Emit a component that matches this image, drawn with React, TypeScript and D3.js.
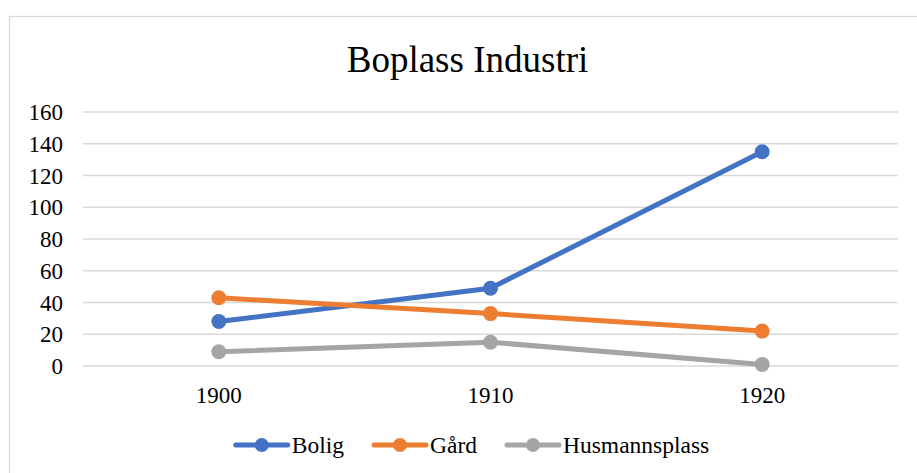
import * as React from "react"
import * as d3 from "d3"

const years = ["1900", "1910", "1920"]
const bolig = [28, 49, 135]
const gard = [43, 33, 22]
const husmannsplass = [9, 15, 1]
const yTicks = [0, 20, 40, 60, 80, 100, 120, 140, 160]

const seriesNames = ["Bolig", "Gård", "Husmannsplass"]
const seriesColors = ["#4472C4", "#ED7D31", "#A5A5A5"]

export default function App() {
    const ref = React.useRef<SVGSVGElement>(null)

    React.useEffect(() => {
        document.body.style.margin = "0"
        const [w, h] = [917, 473]
        const m = { top: 112, bottom: 107, left: 83, right: 19 }
        const font = "'Liberation Serif', 'Times New Roman', serif"

        const svg = d3.select(ref.current)
        svg.selectAll("*").remove()

        // chart frame (runs past the right/bottom edge of the picture)
        svg.append("rect")
            .attr("x", 9.5).attr("y", 16.5)
            .attr("width", 917).attr("height", 480)
            .attr("fill", "white")
            .attr("stroke", "#d9d9d9").attr("stroke-width", 1.3)

        svg.append("text")
            .attr("x", 467.5).attr("y", 72)
            .attr("text-anchor", "middle")
            .attr("font-family", font).attr("font-size", 37)
            .attr("fill", "#000")
            .text("Boplass Industri")

        const x = d3.scalePoint<string>()
            .domain(years)
            .range([m.left, w - m.right])
            .padding(0.5)

        const y = d3.scaleLinear()
            .domain([0, 160])
            .range([366, m.top])

        const grid = svg.append("g")
        grid.selectAll("line").data(yTicks).join("line")
            .attr("x1", m.left).attr("x2", w - m.right)
            .attr("y1", d => y(d)).attr("y2", d => y(d))
            .attr("stroke", "#d9d9d9").attr("stroke-width", 1.3)

        grid.selectAll("text").data(yTicks).join("text")
            .attr("x", 63).attr("y", d => y(d) + 8)
            .attr("text-anchor", "end")
            .attr("font-family", font).attr("font-size", 23)
            .text(d => d)

        svg.append("g").selectAll("text").data(years).join("text")
            .attr("x", d => x(d)!).attr("y", 403)
            .attr("text-anchor", "middle")
            .attr("font-family", font).attr("font-size", 23)
            .text(d => d)

        const all = [bolig, gard, husmannsplass]
        const line = d3.line<number>()
            .x((_, i) => x(years[i])!)
            .y(d => y(d))

        all.forEach((vals, k) => {
            const g = svg.append("g")
            g.append("path")
                .attr("d", line(vals))
                .attr("fill", "none")
                .attr("stroke", seriesColors[k])
                .attr("stroke-width", 5)
                .attr("stroke-linecap", "round")
            g.selectAll("circle").data(vals).join("circle")
                .attr("cx", (_, i) => x(years[i])!)
                .attr("cy", d => y(d))
                .attr("r", 7.5)
                .attr("fill", seriesColors[k])
        })

        // legend
        const legend = svg.append("g")
        let cx = 0
        seriesNames.forEach((name, k) => {
            const item = legend.append("g").attr("transform", `translate(${cx},0)`)
            item.append("line")
                .attr("x1", 2).attr("x2", 54)
                .attr("y1", 0).attr("y2", 0)
                .attr("stroke", seriesColors[k]).attr("stroke-width", 5)
                .attr("stroke-linecap", "round")
            item.append("circle")
                .attr("cx", 28).attr("cy", 0).attr("r", 7)
                .attr("fill", seriesColors[k])
            const t = item.append("text")
                .attr("x", 58).attr("y", 8)
                .attr("font-family", font).attr("font-size", 23.5)
                .text(name)
            const tw = (t.node() as SVGTextElement).getComputedTextLength()
            cx += 58 + tw + 28
        })
        const lw = cx - 28
        legend.attr("transform", `translate(${471.5 - lw / 2},445)`)
    }, [])

    return <svg ref={ref} width={917} height={473} style={{ display: "block" }} />
}
